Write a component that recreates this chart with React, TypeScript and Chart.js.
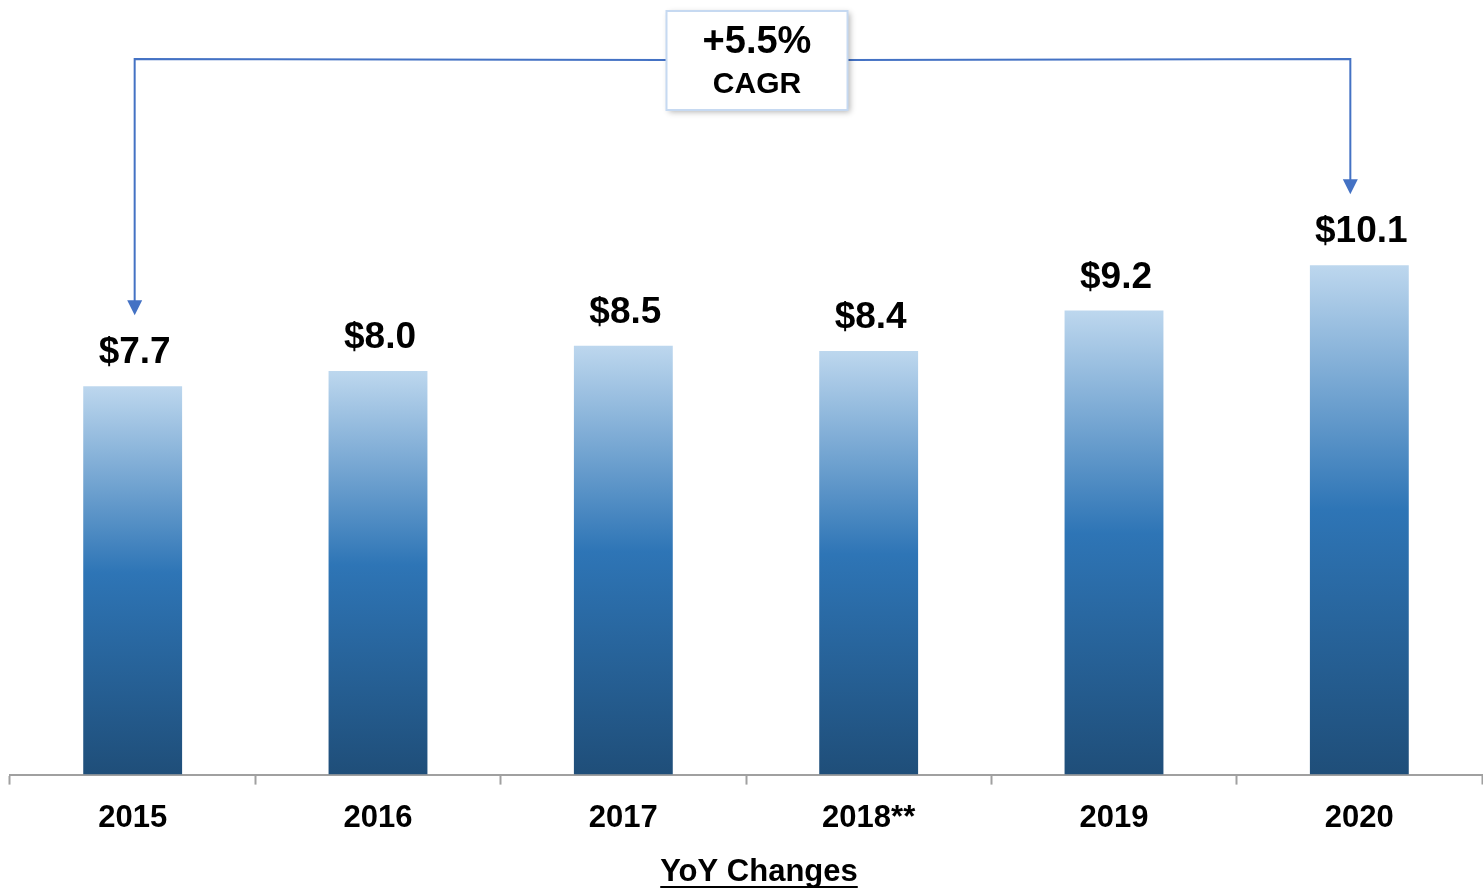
import React, { useEffect, useRef } from "react";
import { Chart, registerables } from "chart.js";

Chart.register(...registerables);

const categories = ["2015", "2016", "2017", "2018**", "2019", "2020"];
const values = [7.7, 8.0, 8.5, 8.4, 9.2, 10.1];
const cagrLine1 = "+5.5%";
const cagrLine2 = "CAGR";
const axisTitle = "YoY Changes";

const FONT = "'Liberation Sans', Arial, Helvetica, sans-serif";

export default function App() {
  const ref = useRef<HTMLCanvasElement | null>(null);

  useEffect(() => {
    if (!ref.current) return;

    const labelPlugin = {
      id: "valueLabels",
      afterDatasetsDraw(chart: any) {
        const ctx = chart.ctx;
        const meta = chart.getDatasetMeta(0);
        ctx.save();
        ctx.font = `bold 37px ${FONT}`;
        ctx.fillStyle = "#000";
        ctx.textAlign = "center";
        ctx.textBaseline = "middle";
        meta.data.forEach((bar: any, i: number) => {
          ctx.fillText(`$${values[i].toFixed(1)}`, bar.x + 2, bar.y - 33);
        });
        ctx.restore();
      },
    };

    const annotationPlugin = {
      id: "cagr",
      afterDraw(chart: any) {
        const ctx = chart.ctx;
        const meta = chart.getDatasetMeta(0);
        const first = meta.data[0];
        const last = meta.data[meta.data.length - 1];
        const area = chart.chartArea;
        const lineY = area.top + 42;
        const mid = (first.x + last.x) / 2 + 11;
        const boxW = 181;
        const boxH = 99;
        const boxL = mid - boxW / 2;
        const boxT = lineY - 49;
        const color = "#4472c4";
        const lx = first.x + 2;
        const rx = last.x - 9;

        ctx.save();
        ctx.strokeStyle = color;
        ctx.lineWidth = 2;
        ctx.beginPath();
        ctx.moveTo(boxL, lineY);
        ctx.lineTo(lx, lineY - 1);
        ctx.lineTo(lx, first.y - 84);
        ctx.stroke();
        ctx.beginPath();
        ctx.moveTo(boxL + boxW, lineY);
        ctx.lineTo(rx, lineY - 1);
        ctx.lineTo(rx, last.y - 84);
        ctx.stroke();
        ctx.fillStyle = color;
        [
          [lx, first.y],
          [rx, last.y],
        ].forEach(([x, y]) => {
          const tip = y - 71;
          ctx.beginPath();
          ctx.moveTo(x, tip);
          ctx.lineTo(x - 7.5, tip - 15);
          ctx.lineTo(x + 7.5, tip - 15);
          ctx.closePath();
          ctx.fill();
        });

        ctx.shadowColor = "rgba(0,0,0,0.3)";
        ctx.shadowBlur = 6;
        ctx.shadowOffsetX = 2;
        ctx.shadowOffsetY = 2;
        ctx.fillStyle = "#ffffff";
        ctx.fillRect(boxL, boxT, boxW, boxH);
        ctx.shadowColor = "transparent";
        ctx.strokeStyle = "#c6d9f1";
        ctx.lineWidth = 2;
        ctx.strokeRect(boxL, boxT, boxW, boxH);

        ctx.fillStyle = "#000";
        ctx.textAlign = "center";
        ctx.textBaseline = "middle";
        ctx.font = `bold 38px ${FONT}`;
        ctx.fillText(cagrLine1, mid, boxT + 32);
        ctx.font = `bold 30px ${FONT}`;
        ctx.fillText(cagrLine2, mid, boxT + 74);

        // axis title (drawn offset like the reference) with underline
        const xs = chart.scales.x;
        ctx.font = `bold 31px ${FONT}`;
        const w = ctx.measureText(axisTitle).width;
        const cx = (xs.left + xs.right) / 2 + 13;
        const ty = xs.bottom - 20;
        ctx.fillText(axisTitle, cx, ty);
        const uy = ty + 15;
        ctx.strokeStyle = "#000";
        ctx.lineWidth = 2;
        ctx.beginPath();
        ctx.moveTo(cx - w / 2, uy);
        ctx.lineTo(cx + w / 2, uy);
        ctx.stroke();
        ctx.restore();
      },
    };

    const chart = new Chart(ref.current, {
      type: "bar",
      data: {
        labels: categories,
        datasets: [
          {
            data: values,
            backgroundColor: (context: any) => {
              const chart = context.chart;
              const area = chart.chartArea;
              if (!area || context.type !== "data") return "#2e75b6";
              const y = chart.scales.y;
              const top = y.getPixelForValue(values[context.dataIndex]);
              const bottom = y.getPixelForValue(0);
              const g = chart.ctx.createLinearGradient(0, top, 0, bottom);
              g.addColorStop(0, "#bdd7ee");
              g.addColorStop(0.48, "#2e75b6");
              g.addColorStop(1, "#1f4e79");
              return g;
            },
            borderWidth: 0,
            categoryPercentage: 1,
            barPercentage: 0.403,
          },
        ],
      },
      options: {
        responsive: true,
        maintainAspectRatio: false,
        animation: false,
        layout: { padding: { top: 18, left: 10, right: 1, bottom: 0 } },
        plugins: {
          legend: { display: false },
          tooltip: { enabled: false },
          title: { display: false },
        },
        scales: {
          x: {
            grid: {
              display: true,
              drawOnChartArea: false,
              drawTicks: true,
              tickLength: 10,
              tickWidth: 2,
              color: "#a0a0a0",
              offset: true,
            },
            border: { display: true, color: "#a0a0a0", width: 2 },
            ticks: {
              color: "#000",
              font: { family: FONT, size: 31, weight: "bold" },
              padding: 15,
              maxRotation: 0,
            },
            title: {
              display: true,
              text: axisTitle,
              color: "rgba(0,0,0,0)",
              font: { family: FONT, size: 31, weight: "bold" },
              padding: { top: 3, bottom: 0 },
            },
          },
          y: {
            display: false,
            min: 0,
            max: 15,
          },
        },
      },
      plugins: [labelPlugin, annotationPlugin],
    });

    return () => chart.destroy();
  }, []);

  return (
    <div style={{ position: "absolute", left: 0, top: 0, width: 1483, height: 892, background: "#fff" }}>
      <canvas ref={ref} />
    </div>
  );
}
